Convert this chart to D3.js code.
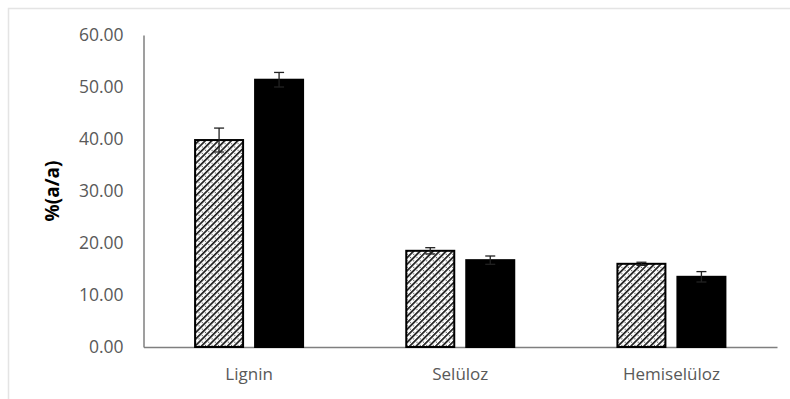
<!DOCTYPE html>
<html><head><meta charset="utf-8">
<script src="https://cdn.jsdelivr.net/npm/d3@7"></script>
<style>body{margin:0;background:#fff}svg{display:block}</style>
</head><body>
<svg id="c" width="790" height="399"></svg>
<script>
const categories = ["Lignin", "Selüloz", "Hemiselüloz"];
const seriesA = [39.8, 18.5, 16.0];   // hatched
const errA = [2.3, 0.6, 0.3];
const seriesB = [51.4, 16.7, 13.5];   // black
const errB = [1.4, 0.8, 1.0];
const yTicks = [0, 10, 20, 30, 40, 50, 60];
const yLabel = "%(a/a)";

const svg = d3.select("#c");
// chart frame
svg.append("rect").attr("x", 8.5).attr("y", 8.5).attr("width", 800).attr("height", 400)
  .attr("fill", "none").attr("stroke", "#e4e4e4").attr("stroke-width", 1.5);

const defs = svg.append("defs");
const pat = defs.append("pattern").attr("id", "hatch").attr("patternUnits", "userSpaceOnUse")
  .attr("width", 4.6).attr("height", 4.6).attr("patternTransform", "rotate(45)");
pat.append("rect").attr("width", 4.6).attr("height", 4.6).attr("fill", "#fff");
pat.append("rect").attr("x", 0).attr("y", 0).attr("width", 1.7).attr("height", 4.6).attr("fill", "#1a1a1a");
pat.append("circle").attr("cx", 3.2).attr("cy", 2.3).attr("r", 0.6).attr("fill", "#444");

const x0 = 143.5, x1 = 777, yTop = 35, yBot = 347;
const x = d3.scaleBand().domain(categories).range([x0, x1]);
const y = d3.scaleLinear().domain([0, 60]).range([yBot, yTop]);
const barW = 48, gap = 12;

const fontT = "Open Sans, Liberation Sans, sans-serif";

// y axis
const ya = svg.append("g").attr("transform", `translate(${x0},0)`)
  .call(d3.axisLeft(y).tickValues(yTicks).tickSize(0).tickPadding(20).tickFormat(d3.format(".2f")));
ya.select(".domain").attr("stroke", "#7f7f7f").attr("stroke-width", 1.5);
ya.selectAll("text").attr("fill", "#595959").attr("font-size", 17.5).attr("font-family", fontT);

// x axis
const xa = svg.append("g").attr("transform", `translate(0,${yBot})`)
  .call(d3.axisBottom(x).tickSize(0).tickPadding(21));
xa.select(".domain").attr("stroke", "#7f7f7f").attr("stroke-width", 1.5);
xa.selectAll("text").attr("fill", "#595959").attr("font-size", 17).attr("font-family", fontT);

// bars
const groupW = barW * 2 + gap;
function drawSeries(vals, errs, offset, fill) {
  const g = svg.append("g");
  categories.forEach((c, i) => {
    const bx = x(c) + x.bandwidth() / 2 - groupW / 2 + offset;
    g.append("rect").attr("x", bx).attr("y", y(vals[i])).attr("width", barW)
      .attr("height", y(0) - y(vals[i])).attr("fill", fill)
      .attr("stroke", "#000").attr("stroke-width", 2);
    const cx = bx + barW / 2;
    const lines = [
      [cx, cx, y(vals[i] - errs[i]), y(vals[i] + errs[i])],
      [cx - 5, cx + 5, y(vals[i] + errs[i]), y(vals[i] + errs[i])],
      [cx - 5, cx + 5, y(vals[i] - errs[i]), y(vals[i] - errs[i])]
    ];
    lines.forEach(l => g.append("line").attr("x1", l[0]).attr("x2", l[1]).attr("y1", l[2]).attr("y2", l[3])
      .attr("stroke", "#222").attr("stroke-width", 1.3));
  });
}
drawSeries(seriesA, errA, 0, "url(#hatch)");
drawSeries(seriesB, errB, barW + gap, "#000");

// y label
svg.append("text").attr("transform", `translate(59,${(yTop + yBot) / 2}) rotate(-90)`)
  .attr("text-anchor", "middle").attr("font-size", 19).attr("font-weight", "bold")
  .attr("font-family", fontT).attr("fill", "#000").text(yLabel);
</script>
</body></html>
